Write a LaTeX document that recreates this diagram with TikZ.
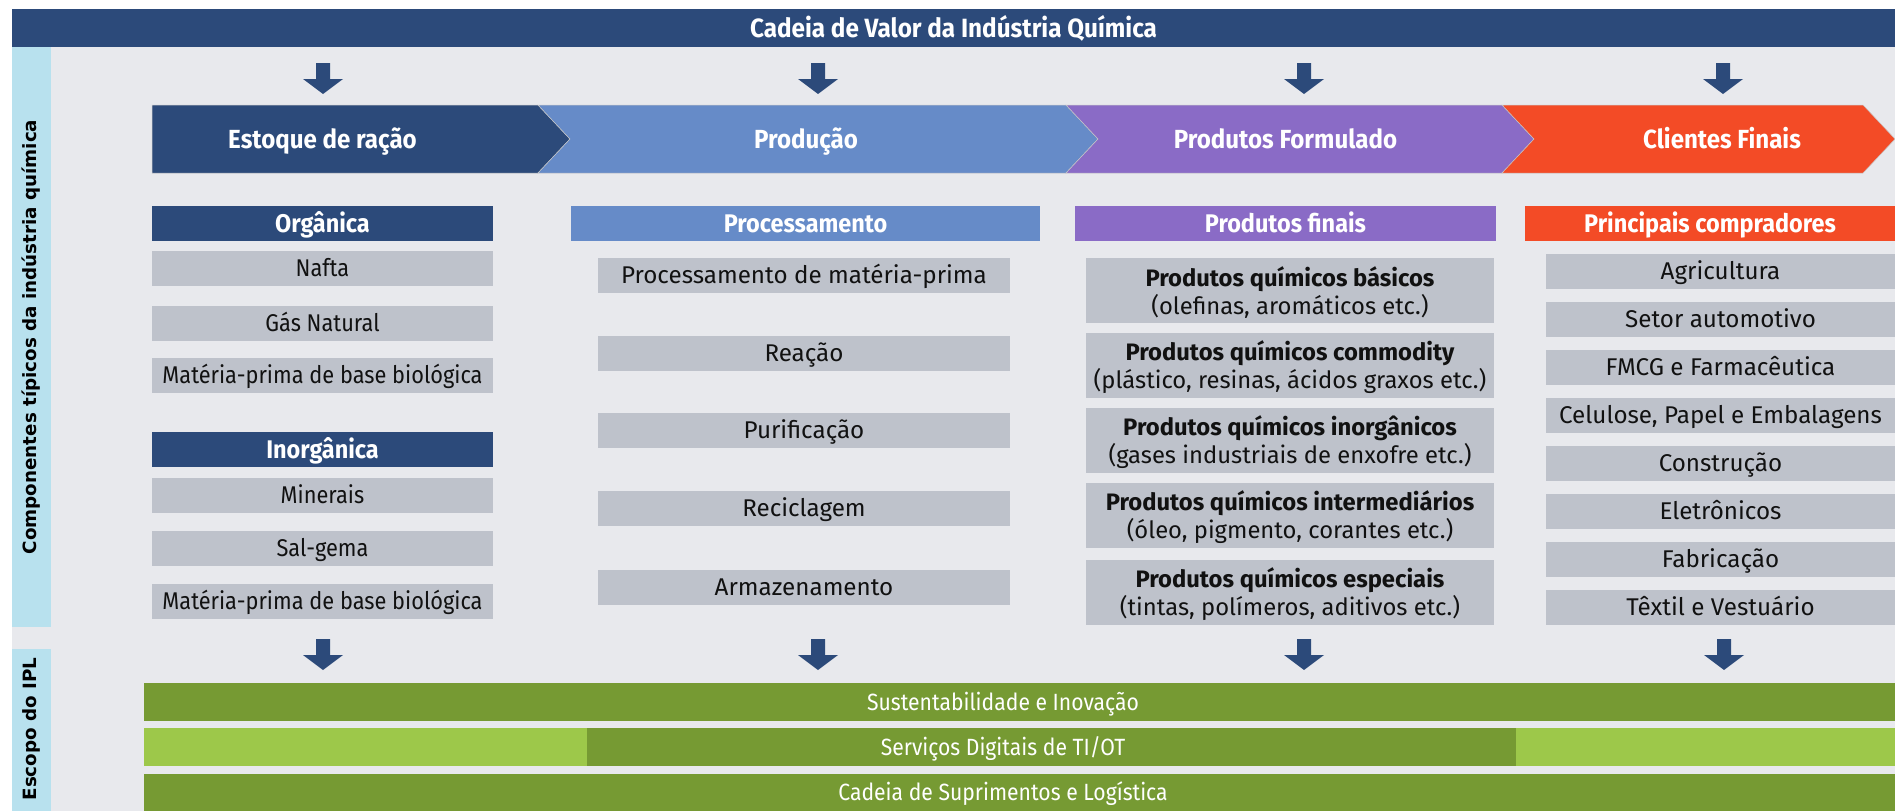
\documentclass[tikz,border=0pt]{standalone}
\usepackage{fontspec}
\setmainfont{Fira Sans}
\newfontfamily\reg{Fira Sans}
\newfontfamily\cnd[FakeStretch=0.9]{Fira Sans}
\newfontfamily\bcnd[FakeStretch=0.92]{Fira Sans}
\newfontfamily\side{DejaVu Sans}
\definecolor{navy}{HTML}{2C4A7A}
\definecolor{lblue}{HTML}{668BC8}
\definecolor{purp}{HTML}{8A6BC6}
\definecolor{orng}{HTML}{F34B26}
\definecolor{gbox}{HTML}{BEC2CB}
\definecolor{bg}{HTML}{E8E9ED}
\definecolor{sideblue}{HTML}{B8E1EE}
\definecolor{dgreen}{HTML}{769A33}
\definecolor{lgreen}{HTML}{9DC84A}
\definecolor{ink}{HTML}{111111}
\tikzset{
  base/.style={inner sep=0pt, outer sep=0pt, anchor=center},
  hdr/.style={base, minimum height=35pt, text height=23pt, text depth=5.4pt, text=white, font=\bcnd\bfseries\fontsize{25.5}{28}\selectfont},
  item1/.style={base, fill=gbox, minimum width=341pt, minimum height=35pt, text height=22pt, text depth=5.3pt, text=ink, font=\cnd\fontsize{24.2}{26}\selectfont},
  item2/.style={base, fill=gbox, minimum width=412pt, minimum height=35pt, text height=22pt, text depth=5.3pt, text=ink, font=\reg\fontsize{24.2}{26}\selectfont},
  item3box/.style={base, fill=gbox, minimum width=408pt, minimum height=65pt},
  item3text/.style={base, yshift=-2.4pt, text=ink, align=center, font=\reg\fontsize{23.8}{28}\selectfont},
  item4/.style={base, fill=gbox, minimum width=349pt, minimum height=35pt, text height=22pt, text depth=5.3pt, text=ink, font=\reg\fontsize{24.2}{26}\selectfont},
  chevtext/.style={base, text height=23pt, text depth=5pt, text=white, font=\bcnd\bfseries\fontsize{26.2}{28}\selectfont},
  bartext/.style={base, text height=21.2pt, text depth=5pt, text=white, font=\cnd\fontsize{23.5}{26}\selectfont},
  sidetext/.style={base, rotate=90, text=black, font=\side\bfseries\fontsize{18.3}{20}\selectfont},
  chevedge/.style={draw=white!55!gray, line width=0.5pt},
  pics/downarrow/.style={code={
    \fill[navy] (-7,0) -- (7,0) -- (7,16) -- (20,16) -- (0,31) -- (-20,16) -- (-7,16) -- cycle;}}
}
\begin{document}
\begin{tikzpicture}[x=1pt,y=-1pt]
\useasboundingbox (0,0) rectangle (1895,811);
\fill[white] (0,0) rectangle (1895,811);
% background
\fill[bg] (12,47) rectangle (1895,811);
% title bar
\node[base, fill=navy, minimum width=1883pt, minimum height=38pt, text=white, text height=23.2pt, text depth=5pt,
  font=\bcnd\bfseries\fontsize{26.4}{28}\selectfont] (title) at (953.5,28) {Cadeia de Valor da Indústria Química};
% side bars
\node[base, fill=sideblue, minimum width=39pt, minimum height=580pt] (side1) at (31.5,337) {};
\node[sidetext] (side1t) at (31.5,337) {Componentes típicos da indústria química};
\node[base, fill=sideblue, minimum width=39pt, minimum height=162pt] (side2) at (31.5,730) {};
\node[sidetext] (side2t) at (31.5,729) {Escopo do IPL};
% top arrows
\pic at (323,63) {downarrow};
\pic at (818,63) {downarrow};
\pic at (1304,63) {downarrow};
\pic at (1723,63) {downarrow};
% chevrons
\filldraw[fill=navy, chevedge] (152,105) -- (538,105) -- (570,139) -- (538,173) -- (152,173) -- cycle;
\filldraw[fill=lblue, chevedge] (538,105) -- (1066,105) -- (1098,139) -- (1066,173) -- (538,173) -- (570,139) -- cycle;
\filldraw[fill=purp, chevedge] (1066,105) -- (1502,105) -- (1534,139) -- (1502,173) -- (1066,173) -- (1098,139) -- cycle;
\filldraw[fill=orng, chevedge] (1502,105) -- (1863,105) -- (1895,139) -- (1863,173) -- (1502,173) -- (1534,139) -- cycle;
\node[chevtext] (ch1) at (322.5,139) {Estoque de ração};
\node[chevtext] (ch2) at (806,139) {Produção};
\node[chevtext] (ch3) at (1285.5,139) {Produtos Formulado};
\node[chevtext] (ch4) at (1722,139) {Clientes Finais};
% column 1
\node[hdr, fill=navy, minimum width=341pt] (org) at (322.5,223.5) {Orgânica};
\node[item1] (c1a) at (322.5,268.5) {Nafta};
\node[item1] (c1b) at (322.5,323.5) {Gás Natural};
\node[item1] (c1c) at (322.5,375.5) {Matéria-prima de base biológica};
\node[hdr, fill=navy, minimum width=341pt] (inorg) at (322.5,449.5) {Inorgânica};
\node[item1] (c1d) at (322.5,495.5) {Minerais};
\node[item1] (c1e) at (322.5,548.5) {Sal-gema};
\node[item1] (c1f) at (322.5,601.5) {Matéria-prima de base biológica};
% column 2
\node[hdr, fill=lblue, minimum width=469pt] (proc) at (805.5,223.5) {Processamento};
\node[item2] (c2a) at (804,275.5) {Processamento de matéria-prima};
\node[item2] (c2b) at (804,353) {Reação};
\node[item2] (c2c) at (804,430.5) {Purificação};
\node[item2] (c2d) at (804,508.5) {Reciclagem};
\node[item2] (c2e) at (804,587.5) {Armazenamento};
% column 3
\node[hdr, fill=purp, minimum width=421pt] (prodf) at (1285.5,223.5) {Produtos finais};
\node[item3box] (c3a) at (1290,290) {};
\node[item3text] (c3at) at (c3a.center) {{\bfseries Produtos químicos básicos}\\(olefinas, aromáticos etc.)};
\node[item3box] (c3b) at (1290,365) {};
\node[item3text] (c3bt) at (c3b.center) {{\bfseries Produtos químicos commodity}\\(plástico, resinas, ácidos graxos etc.)};
\node[item3box] (c3c) at (1290,440) {};
\node[item3text] (c3ct) at (c3c.center) {{\bfseries Produtos químicos inorgânicos}\\(gases industriais de enxofre etc.)};
\node[item3box] (c3d) at (1290,515) {};
\node[item3text] (c3dt) at (c3d.center) {{\bfseries Produtos químicos intermediários}\\(óleo, pigmento, corantes etc.)};
\node[item3box] (c3e) at (1290,592) {};
\node[item3text] (c3et) at (c3e.center) {{\bfseries Produtos químicos especiais}\\(tintas, polímeros, aditivos etc.)};
% column 4
\node[hdr, fill=orng, minimum width=370pt] (comp) at (1710,223.5) {Principais compradores};
\node[item4] (c4a) at (1720.5,271.5) {Agricultura};
\node[item4] (c4b) at (1720.5,319.5) {Setor automotivo};
\node[item4] (c4c) at (1720.5,367.5) {FMCG e Farmacêutica};
\node[item4] (c4d) at (1720.5,415.5) {Celulose, Papel e Embalagens};
\node[item4] (c4e) at (1720.5,463.5) {Construção};
\node[item4] (c4f) at (1720.5,511.5) {Eletrônicos};
\node[item4] (c4g) at (1720.5,559.5) {Fabricação};
\node[item4] (c4h) at (1720.5,607.5) {Têxtil e Vestuário};
% bottom arrows
\pic at (323,639) {downarrow};
\pic at (818,639) {downarrow};
\pic at (1304,639) {downarrow};
\pic at (1724,639) {downarrow};
% bottom bars
\fill[dgreen] (144,683) rectangle (1895,721);
\fill[lgreen] (144,728) rectangle (587,766);
\fill[dgreen] (587,728) rectangle (1516,766);
\fill[lgreen] (1516,728) rectangle (1895,766);
\fill[dgreen] (144,774) rectangle (1895,811);
\node[bartext] (b1) at (1003,702) {Sustentabilidade e Inovação};
\node[bartext] (b2) at (1003,747) {Serviços Digitais de TI/OT};
\node[bartext] (b3) at (1003,792.5) {Cadeia de Suprimentos e Logística};
\end{tikzpicture}
\end{document}
